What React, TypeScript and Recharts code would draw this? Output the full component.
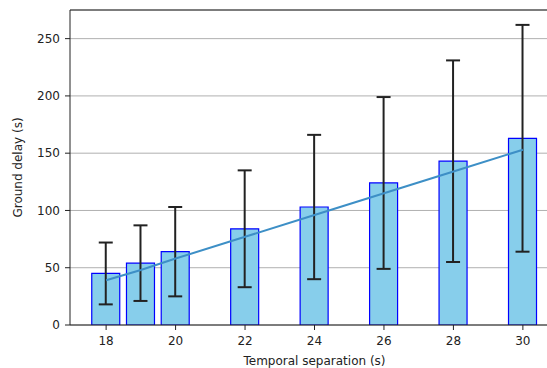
import React from "react";
import {
  ComposedChart,
  Bar,
  Line,
  ErrorBar,
  XAxis,
  YAxis,
  CartesianGrid,
  ReferenceLine,
} from "recharts";

// temporal separation (s)
const separations = [18, 19, 20, 22, 24, 26, 28, 30];
// mean ground delay (s)
const meanDelay = [45, 54, 64, 84, 103, 124, 143, 163];
// half-length of the error bars (s)
const delayErr = [27, 33, 39, 51, 63, 75, 88, 99];
// fitted trend line
const trend = [39, 48, 58, 77, 96, 115, 134, 153];

const xTicks = [18, 20, 22, 24, 26, 28, 30];
const yTicks = [0, 50, 100, 150, 200, 250];

const data = separations.map((sep, i) => ({
  sep,
  delay: meanDelay[i],
  err: delayErr[i],
  fit: trend[i],
}));

const font = "DejaVu Sans, sans-serif";
const tickStyle = { fontSize: 12, fill: "#222", fontFamily: font };

const App = () => {
  return (
    <div style={{ position: "absolute", left: 0, top: 0 }}>
      <ComposedChart
        width={570}
        height={368}
        data={data}
        margin={{ top: 10, right: 11, left: 0, bottom: 0 }}
      >
        <CartesianGrid vertical={false} stroke="#b0b0b0" strokeWidth={1} />
        <XAxis
          dataKey="sep"
          type="number"
          domain={[16.96, 31.04]}
          ticks={xTicks}
          allowDataOverflow
          height={43}
          stroke="#222"
          tickSize={5}
          tickMargin={6}
          tick={tickStyle}
          label={{
            value: "Temporal separation (s)",
            position: "insideBottom",
            offset: 3,
            style: { fontSize: 12, fill: "#222", fontFamily: font },
          }}
        />
        <YAxis
          type="number"
          domain={[0, 275]}
          ticks={yTicks}
          allowDataOverflow
          width={70}
          stroke="#222"
          tickSize={5}
          tickMargin={5}
          tick={tickStyle}
          label={{
            value: "Ground delay (s)",
            angle: -90,
            position: "insideLeft",
            offset: 18,
            style: {
              fontSize: 12,
              fill: "#222",
              fontFamily: font,
              textAnchor: "middle",
            },
          }}
        />
        <ReferenceLine y={275} stroke="#222" />
        <Bar
          dataKey="delay"
          barSize={28}
          fill="#87ceeb"
          stroke="#0000ff"
          strokeWidth={1.2}
          isAnimationActive={false}
        >
          <ErrorBar
            dataKey="err"
            width={7}
            stroke="#222"
            strokeWidth={2}
            isAnimationActive={false}
          />
        </Bar>
        <Line
          dataKey="fit"
          type="linear"
          stroke="#3d8fc6"
          strokeWidth={2}
          dot={false}
          isAnimationActive={false}
        />
      </ComposedChart>
    </div>
  );
};

export default App;
